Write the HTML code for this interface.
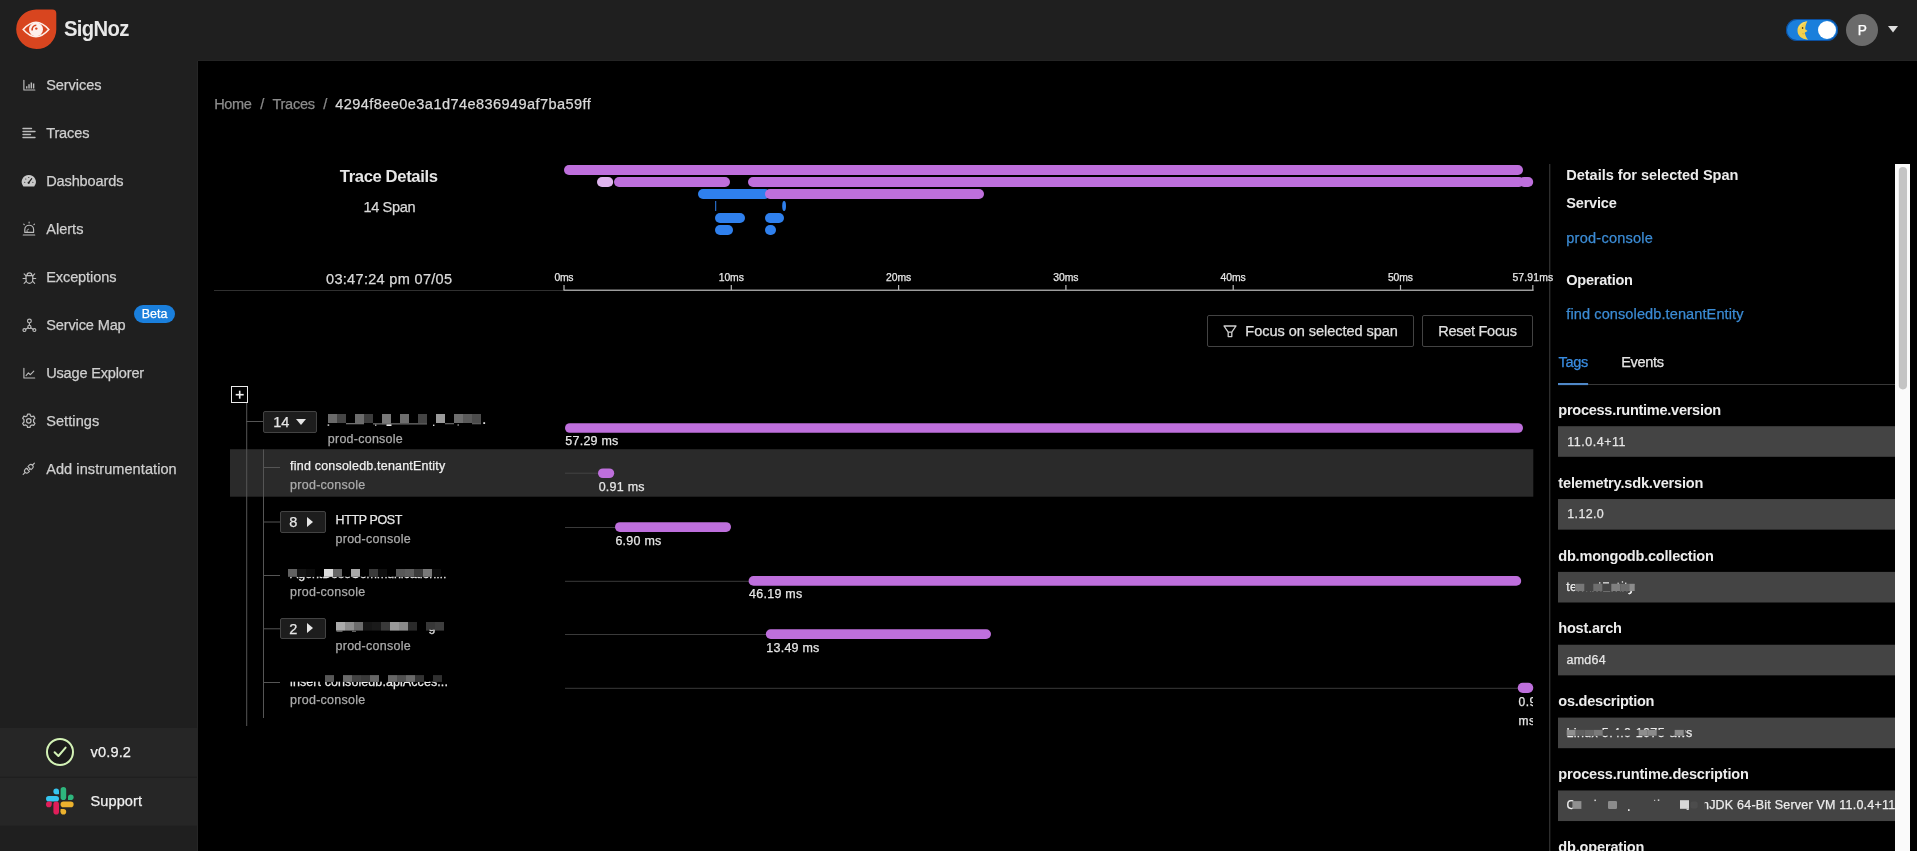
<!DOCTYPE html>
<html><head><meta charset="utf-8"><title>SigNoz | Trace Detail</title>
<style>
html,body{margin:0;padding:0;background:#000;width:1917px;height:851px;overflow:hidden;}
body{width:1917px;height:851px;position:relative;overflow:hidden;font-family:"Liberation Sans",sans-serif;}
#root{position:absolute;left:0;top:0;width:1917px;height:851px;will-change:transform;overflow:hidden;}
.t{position:absolute;white-space:pre;margin:0;padding:0;-webkit-text-stroke:0.25px;}
.b{position:absolute;}
svg{position:absolute;overflow:visible;}
</style></head><body><div id="root">
<div class="b" style="left:0px;top:0px;width:1917px;height:61px;background:#1f1f1f;"></div>
<div class="b" style="left:0px;top:61px;width:198px;height:790px;background:#1f1f1f;"></div>
<div class="b" style="left:197px;top:61px;width:1px;height:790px;background:#262626;"></div>
<div class="b" style="left:198px;top:60px;width:1719px;height:1px;background:#242424;"></div>
<svg style="left:16px;top:9px" width="41" height="41" viewBox="0 0 41 41"><path d="M20.2 0.4 H36.3 Q40.3 0.4 40.3 4.4 V20.6 A19.6 19.5 0 0 1 20.6 40.1 A20.3 19.9 0 0 1 0.2 20.2 A20 19.8 0 0 1 20.2 0.4 Z" fill="#d8451f"/><path d="M7.2 20.5 Q20 6 32.8 20.5 Q20 35 7.2 20.5 Z" fill="none" stroke="#fdeee8" stroke-width="1.6"/><circle cx="20" cy="20.4" r="7" fill="#fdf0ec"/><path d="M16.3 21.5 A4.2 4.2 0 0 1 20.3 16.2" fill="none" stroke="#d8451f" stroke-width="1.5"/><circle cx="20.3" cy="19.6" r="1.2" fill="#d8451f"/></svg>
<div class="t " style="left:64.00px;top:15.60px;font-size:20.28px;line-height:26px;color:#e8e8e8;font-weight:700;-webkit-text-stroke:0;letter-spacing:-0.665px;transform:scaleY(1.06);transform-origin:50% 50%;">SigNoz</div>
<div class="b" style="left:1786px;top:19px;width:52px;height:22px;background:#1a7fdc;border-radius:11px;box-shadow:inset 0 0 0 1px rgba(0,40,110,.55);"></div>
<div class="b" style="left:1818px;top:21px;width:18px;height:18px;background:#ffffff;border-radius:9px;"></div>
<svg style="left:1797px;top:20.5px" width="12" height="19" viewBox="0 0 12 19"><path d="M10.4 0.3 C3.6 1 0.5 5 0.5 9.6 C0.5 14.4 4 18.2 11 18.7 C8.8 16.2 7.9 13.6 7.9 11.6 L10.6 9.9 L8.2 8.3 C8.2 5.5 8.9 2.8 10.4 0.3 Z" fill="#f3d14f"/><path d="M10.4 0.3 C5.5 1.2 2.2 4.4 1.6 8.5 C3.4 4.4 6.6 2 10.4 0.3Z" fill="#f9e37a"/><ellipse cx="5.6" cy="6.9" rx="0.8" ry="1" fill="#5a4310"/><path d="M5.4 12.6 Q6.6 13.2 7.6 12.4" stroke="#c99a2e" stroke-width=".6" fill="none"/></svg>
<div class="b" style="left:1846px;top:14px;width:32px;height:32px;background:#6b6b6b;border-radius:16px;"></div>
<div class="t " style="left:1857.70px;top:20.60px;font-size:13.73px;line-height:19px;color:#ffffff;">P</div>
<svg style="left:1888px;top:25.7px" width="10" height="7" viewBox="0 0 10 7"><path d="M0 0 H10 L5 6.4 Z" fill="#dedede"/></svg>
<div class="t " style="left:46.20px;top:75.00px;font-size:14.56px;line-height:20px;color:#cfcfcf;letter-spacing:-0.076px;">Services</div>
<div class="t " style="left:46.20px;top:123.00px;font-size:14.56px;line-height:20px;color:#cfcfcf;letter-spacing:-0.132px;">Traces</div>
<div class="t " style="left:46.20px;top:171.00px;font-size:14.56px;line-height:20px;color:#cfcfcf;letter-spacing:-0.134px;">Dashboards</div>
<div class="t " style="left:46.20px;top:219.00px;font-size:14.56px;line-height:20px;color:#cfcfcf;letter-spacing:0.016px;">Alerts</div>
<div class="t " style="left:46.20px;top:267.00px;font-size:14.56px;line-height:20px;color:#cfcfcf;letter-spacing:-0.102px;">Exceptions</div>
<div class="t " style="left:46.20px;top:315.00px;font-size:14.56px;line-height:20px;color:#cfcfcf;letter-spacing:-0.132px;">Service Map</div>
<div class="t " style="left:46.20px;top:363.00px;font-size:14.56px;line-height:20px;color:#cfcfcf;letter-spacing:-0.173px;">Usage Explorer</div>
<div class="t " style="left:46.20px;top:411.00px;font-size:14.56px;line-height:20px;color:#cfcfcf;letter-spacing:0.070px;">Settings</div>
<div class="t " style="left:46.20px;top:459.00px;font-size:14.56px;line-height:20px;color:#cfcfcf;letter-spacing:0.061px;">Add instrumentation</div>
<svg style="left:22.8px;top:79px" width="12.4" height="12.4" viewBox="0 0 14 14" fill="none" stroke="#bcbcbc" stroke-width="1.1" stroke-linecap="round" stroke-linejoin="round"><path d="M1 1.5 V12.4 H13.4" stroke-width="1.3"/><path d="M4.2 10.8 V8.2 M6.8 10.8 V5.8 M9.4 10.8 V4 M12 10.8 V5.2" stroke-width="1.6" stroke-linecap="butt"/></svg>
<svg style="left:22px;top:126px" width="14" height="14" viewBox="0 0 14 14" fill="none" stroke="#bcbcbc" stroke-width="1.1" stroke-linecap="round" stroke-linejoin="round"><path d="M1 2.5 H9.5 M1 5.5 H13 M1 8.5 H8.5 M1 11.5 H13" stroke-width="1.4" stroke="#bdbdbd"/></svg>
<svg style="left:21px;top:174px" width="15.6" height="14" viewBox="0 0 15 14" preserveAspectRatio="none"><path d="M7.5 1 A6.8 6.8 0 0 0 1.9 11.7 Q2.2 12.6 3 12.6 H12 Q12.8 12.6 13.1 11.7 A6.8 6.8 0 0 0 7.5 1 Z" fill="#c8c8c8"/><path d="M7.4 8.6 L10.3 4.6" stroke="#1f1f1f" stroke-width="1.1" stroke-linecap="round"/><circle cx="7.4" cy="8.8" r="1.1" fill="#1f1f1f"/><circle cx="3.6" cy="8.3" r=".55" fill="#1f1f1f"/><circle cx="4.6" cy="5" r=".55" fill="#1f1f1f"/><circle cx="7.5" cy="3.5" r=".55" fill="#1f1f1f"/><circle cx="11.4" cy="8.3" r=".55" fill="#1f1f1f"/></svg>
<svg style="left:22px;top:222px" width="14" height="14" viewBox="0 0 14 14" fill="none" stroke="#bcbcbc" stroke-width="1.1" stroke-linecap="round" stroke-linejoin="round"><path d="M2.8 10.4 V7.6 A4.4 4.4 0 0 1 11.6 7.6 V10.4 Z" stroke-width="1.15"/><path d="M1.3 13 H12.7" stroke-width="1.2"/><path d="M7.1 0.1 V1 M1.7 2.1 L2.3 2.7 M12.5 2.1 L11.9 2.7" stroke-width="1.1"/><path d="M5.1 9.9 V8.4 A1.6 1.6 0 0 1 6.4 7.2" stroke-width="1"/></svg>
<svg style="left:21.6px;top:269.6px" width="14.8" height="14.8" viewBox="0 0 14 14" fill="none" stroke="#bcbcbc" stroke-width="1.1" stroke-linecap="round" stroke-linejoin="round"><path d="M3.8 5.4 H10.2 V9 A3.2 3.6 0 0 1 3.8 9 Z" stroke-width="1.15"/><path d="M4.7 5.2 A2.3 2.5 0 0 1 9.3 5.2" stroke-width="1.15"/><path d="M3.8 8 H1 M10.2 8 H13 M4.1 10.6 L2 12.6 M9.9 10.6 L12 12.6 M3.9 5.6 L2 3.6 M10.1 5.6 L12 3.6" stroke-width="1.05"/></svg>
<svg style="left:21.6px;top:317.8px" width="14.8" height="14.8" viewBox="0 0 14 14" fill="none" stroke="#bcbcbc" stroke-width="1.1" stroke-linecap="round" stroke-linejoin="round"><circle cx="7" cy="2.9" r="1.8"/><circle cx="2.3" cy="11.4" r="1.4"/><circle cx="11.7" cy="11.4" r="1.4"/><circle cx="7" cy="8.4" r="1.5"/><path d="M7 4.8 V6.9 M5.8 9.2 L3.5 10.6 M8.2 9.2 L10.5 10.6" stroke-width="1.05"/></svg>
<svg style="left:22.6px;top:366.7px" width="12.6" height="12.6" viewBox="0 0 14 14" fill="none" stroke="#bcbcbc" stroke-width="1.1" stroke-linecap="round" stroke-linejoin="round"><path d="M1 1.5 V12.2 H13" stroke-width="1.25"/><path d="M3.4 9.6 L6 6.6 L8.2 8.6 L12 4.6" stroke-width="1.2"/></svg>
<svg style="left:21.2px;top:413.4px" width="15.6" height="15.6" viewBox="0 0 14 14" fill="none" stroke="#bcbcbc" stroke-width="1.1" stroke-linecap="round" stroke-linejoin="round"><circle cx="7" cy="7" r="2"/><path d="M5.9 1 H8.1 L8.5 2.6 L9.8 3.3 L11.4 2.8 L12.5 4.7 L11.3 5.9 V8.1 L12.5 9.3 L11.4 11.2 L9.8 10.7 L8.5 11.4 L8.1 13 H5.9 L5.5 11.4 L4.2 10.7 L2.6 11.2 L1.5 9.3 L2.7 8.1 V5.9 L1.5 4.7 L2.6 2.8 L4.2 3.3 L5.5 2.6 Z"/></svg>
<svg style="left:22.3px;top:462.2px" width="13.6" height="13.6" viewBox="0 0 14 14" fill="none" stroke="#bcbcbc" stroke-width="1.1" stroke-linecap="round" stroke-linejoin="round"><g transform="translate(7 7) rotate(-45)"><path d="M-8.2 0 H-5.2 M5.2 0 H8.2" stroke-width="1.2"/><path d="M-1.3 -2.3 H-3 A2.3 2.3 0 0 0 -3 2.3 H-1.3 Z"/><path d="M1 -2.3 H3 A2.3 2.3 0 0 1 3 2.3 H1 Z"/><path d="M-1.3 -1 H0.4 M-1.3 1 H0.4" stroke-width="0.9"/></g></svg>
<div class="b" style="left:134px;top:305px;width:41px;height:18px;background:#1a7fdc;border-radius:9px;"></div>
<div class="t " style="left:141.70px;top:305.00px;font-size:12.48px;line-height:18px;color:#ffffff;letter-spacing:0.042px;">Beta</div>
<svg style="left:-1px;top:726px;" width="200" height="52"><rect x="1.00" y="1.80" width="198.00" height="48.80" fill="#262626"/></svg>
<svg style="left:-1px;top:777px;" width="200" height="50"><rect x="1.00" y="1.00" width="198.00" height="47.60" fill="#262626"/></svg>
<svg style="left:45px;top:737px" width="30" height="30" viewBox="0 0 30 30" fill="none" stroke="#d3f2b6" stroke-linecap="round" stroke-linejoin="round"><circle cx="15" cy="15" r="13" stroke-width="2" fill="#1c1c1c"/><path d="M9.6 15.2 L13.4 19 L20.6 10.6" stroke-width="2"/></svg>
<div class="t " style="left:90.50px;top:742.30px;font-size:14.56px;line-height:20px;color:#f0f0f0;letter-spacing:0.167px;">v0.9.2</div>
<svg style="left:46px;top:787px" width="28" height="28" viewBox="0 0 28 28"><g fill="#36c5f0"><rect x="0" y="9" width="13" height="5.6" rx="2.8"/><rect x="7.4" y="1.6" width="5.6" height="5.6" rx="2.8"/><rect x="10.2" y="4.4" width="2.8" height="2.8"/></g><g fill="#2eb67d"><rect x="14.6" y="0" width="5.6" height="13" rx="2.8"/><rect x="22" y="7.4" width="5.6" height="5.6" rx="2.8"/><rect x="22" y="10.2" width="2.8" height="2.8"/></g><g fill="#ecb22e"><rect x="14.6" y="14.6" width="13" height="5.6" rx="2.8"/><rect x="14.6" y="22" width="5.6" height="5.6" rx="2.8"/><rect x="14.6" y="22" width="2.8" height="2.8"/></g><g fill="#e01e5a"><rect x="7.4" y="14.6" width="5.6" height="13" rx="2.8"/><rect x="0" y="14.6" width="5.6" height="5.6" rx="2.8"/><rect x="2.8" y="14.6" width="2.8" height="2.8"/></g></svg>
<div class="t " style="left:90.50px;top:790.80px;font-size:14.56px;line-height:20px;color:#f0f0f0;letter-spacing:0.084px;">Support</div>
<div class="t " style="left:214.20px;top:94.00px;font-size:14.56px;line-height:20px;color:#8c8c8c;letter-spacing:-0.346px;">Home</div>
<div class="t " style="left:260.30px;top:94.00px;font-size:14.56px;line-height:20px;color:#8c8c8c;">/</div>
<div class="t " style="left:272.50px;top:94.00px;font-size:14.56px;line-height:20px;color:#8c8c8c;letter-spacing:-0.292px;">Traces</div>
<div class="t " style="left:323.30px;top:94.00px;font-size:14.56px;line-height:20px;color:#8c8c8c;">/</div>
<div class="t " style="left:335.30px;top:94.00px;font-size:14.56px;line-height:20px;color:#d9d9d9;letter-spacing:0.421px;">4294f8ee0e3a1d74e836949af7ba59ff</div>
<div class="t " style="left:339.80px;top:166.20px;font-size:16.64px;line-height:22px;color:#e6e6e6;font-weight:700;-webkit-text-stroke:0;letter-spacing:-0.373px;">Trace Details</div>
<div class="t " style="left:363.40px;top:197.30px;font-size:14.56px;line-height:20px;color:#d9d9d9;letter-spacing:-0.341px;">14 Span</div>
<div class="t " style="left:326.00px;top:269.20px;font-size:14.56px;line-height:20px;color:#d9d9d9;letter-spacing:0.298px;">03:47:24 pm 07/05</div>
<div class="b" style="left:214px;top:290px;width:1320px;height:1px;background:#303030;"></div>
<div class="b" style="left:564px;top:165px;width:959px;height:10px;background:#be6fdc;border-radius:5px;"></div>
<svg style="left:596px;top:176px;" width="19" height="12"><rect x="1.00" y="1.00" width="16.20" height="10.00" rx="5" fill="#dfb4ee"/></svg>
<div class="b" style="left:614px;top:177px;width:116px;height:10px;background:#be6fdc;border-radius:5px;"></div>
<div class="b" style="left:748px;top:177px;width:776px;height:10px;background:#be6fdc;border-radius:5px;"></div>
<svg style="left:1518px;top:176px;" width="17" height="12"><rect x="1.00" y="1.00" width="14.20" height="10.00" rx="5" fill="#be6fdc"/></svg>
<div class="b" style="left:698px;top:189px;width:72px;height:10px;background:#2f80ed;border-radius:5px;"></div>
<div class="b" style="left:765px;top:189px;width:219px;height:10px;background:#be6fdc;border-radius:5px;"></div>
<svg style="left:714px;top:200px;" width="4" height="12"><rect x="1.20" y="1.00" width="1.00" height="10.00" fill="#2f80ed"/></svg>
<svg style="left:781px;top:200px;" width="6" height="12"><rect x="1.20" y="1.00" width="3.80" height="10.00" rx="5" fill="#2f80ed"/></svg>
<div class="b" style="left:715px;top:213px;width:30px;height:10px;background:#2f80ed;border-radius:5px;"></div>
<div class="b" style="left:765px;top:213px;width:19px;height:10px;background:#2f80ed;border-radius:5px;"></div>
<div class="b" style="left:715px;top:225px;width:18px;height:10px;background:#2f80ed;border-radius:5px;"></div>
<div class="b" style="left:765px;top:225px;width:11px;height:10px;background:#2f80ed;border-radius:5px;"></div>
<svg style="left:562px;top:288px;" width="973" height="4"><rect x="1.50" y="1.60" width="970.00" height="1.20" fill="#b8b8b8"/></svg>
<svg style="left:562px;top:284px;" width="4" height="7"><rect x="1.40" y="1.00" width="1.20" height="5.00" fill="#b8b8b8"/></svg>
<div class="t " style="left:554.50px;top:269.70px;font-size:10.4px;line-height:16px;color:#e6e6e6;letter-spacing:-0.324px;z-index:3;">0ms</div>
<svg style="left:729px;top:284px;" width="4" height="7"><rect x="1.70" y="1.00" width="1.20" height="5.00" fill="#b8b8b8"/></svg>
<div class="t " style="left:718.70px;top:269.70px;font-size:10.4px;line-height:16px;color:#e6e6e6;letter-spacing:-0.077px;z-index:3;">10ms</div>
<svg style="left:897px;top:284px;" width="4" height="7"><rect x="1.00" y="1.00" width="1.20" height="5.00" fill="#b8b8b8"/></svg>
<div class="t " style="left:886.00px;top:269.70px;font-size:10.4px;line-height:16px;color:#e6e6e6;letter-spacing:-0.077px;z-index:3;">20ms</div>
<svg style="left:1064px;top:284px;" width="4" height="7"><rect x="1.30" y="1.00" width="1.20" height="5.00" fill="#b8b8b8"/></svg>
<div class="t " style="left:1053.30px;top:269.70px;font-size:10.4px;line-height:16px;color:#e6e6e6;letter-spacing:-0.077px;z-index:3;">30ms</div>
<svg style="left:1231px;top:284px;" width="4" height="7"><rect x="1.60" y="1.00" width="1.20" height="5.00" fill="#b8b8b8"/></svg>
<div class="t " style="left:1220.60px;top:269.70px;font-size:10.4px;line-height:16px;color:#e6e6e6;letter-spacing:-0.077px;z-index:3;">40ms</div>
<svg style="left:1398px;top:284px;" width="5" height="7"><rect x="1.90" y="1.00" width="1.20" height="5.00" fill="#b8b8b8"/></svg>
<div class="t " style="left:1387.90px;top:269.70px;font-size:10.4px;line-height:16px;color:#e6e6e6;letter-spacing:-0.077px;z-index:3;">50ms</div>
<svg style="left:1531px;top:284px;" width="4" height="7"><rect x="1.23" y="1.00" width="1.20" height="5.00" fill="#b8b8b8"/></svg>
<div class="t " style="left:1512.43px;top:269.70px;font-size:10.4px;line-height:16px;color:#e6e6e6;letter-spacing:0.152px;z-index:3;">57.91ms</div>
<div class="b" style="left:1207px;top:315px;width:207px;height:32px;border:1px solid #434343;border-radius:2px;box-sizing:border-box;"></div>
<div class="b" style="left:1422px;top:315px;width:111px;height:32px;border:1px solid #434343;border-radius:2px;box-sizing:border-box;"></div>
<svg style="left:1223px;top:325px" width="14" height="13" viewBox="0 0 14 13" fill="none" stroke="#d0d0d0" stroke-width="1.3" stroke-linejoin="round"><path d="M1 1 H13 L8.8 7.2 H5.2 Z"/><path d="M5.2 7.2 V11.6 H8.8 V7.2"/></svg>
<div class="t " style="left:1245.30px;top:321.20px;font-size:14.56px;line-height:20px;color:#e0e0e0;letter-spacing:-0.052px;">Focus on selected span</div>
<div class="t " style="left:1438.30px;top:321.20px;font-size:14.56px;line-height:20px;color:#e0e0e0;letter-spacing:-0.303px;">Reset Focus</div>
<svg style="left:229px;top:448px;" width="1306" height="50"><rect x="1.00" y="1.20" width="1303.30" height="47.50" fill="#2a2a2a"/></svg>
<div class="b" style="left:231.3px;top:386.3px;width:16.7px;height:16.7px;border:1.9px solid #ececec;box-sizing:border-box;"></div>
<svg style="left:234px;top:392px;" width="11" height="5"><rect x="1.70" y="1.90" width="8.00" height="1.60" fill="#ececec"/></svg>
<svg style="left:237px;top:389px;" width="5" height="11"><rect x="1.90" y="1.70" width="1.60" height="8.00" fill="#ececec"/></svg>
<svg style="left:245px;top:402px;" width="4" height="325"><rect x="1.20" y="1.00" width="1.00" height="323.00" fill="#555555"/></svg>
<svg style="left:262px;top:448px;" width="3" height="271"><rect x="1.00" y="1.50" width="1.00" height="268.50" fill="#555555"/></svg>
<svg style="left:245px;top:420px;" width="20" height="3"><rect x="1.20" y="1.00" width="17.00" height="1.00" fill="#555555"/></svg>
<div class="b" style="left:263px;top:467px;width:17px;height:1px;background:#555555;"></div>
<svg style="left:262px;top:520px;" width="19" height="4"><rect x="1.00" y="1.50" width="17.00" height="1.00" fill="#555555"/></svg>
<div class="b" style="left:263px;top:575px;width:17px;height:1px;background:#555555;"></div>
<svg style="left:262px;top:627px;" width="19" height="4"><rect x="1.00" y="1.30" width="17.00" height="1.00" fill="#555555"/></svg>
<div class="b" style="left:263px;top:682px;width:17px;height:1px;background:#555555;"></div>
<div class="b" style="left:263.3px;top:411.3px;width:53.4px;height:21.4px;background:#1d1d1d;border:1px solid #434343;border-radius:2px;box-sizing:border-box;"></div>
<div class="t " style="left:273.20px;top:412.20px;font-size:14.56px;line-height:20px;color:#e6e6e6;">14</div>
<svg style="left:296.3px;top:419.2px" width="10" height="6" viewBox="0 0 10 6"><path d="M0 0 H10 L5 6 Z" fill="#e6e6e6"/></svg>
<div class="b" style="left:280px;top:511.4px;width:45.8px;height:21.4px;background:#1d1d1d;border:1px solid #434343;border-radius:2px;box-sizing:border-box;"></div>
<div class="t " style="left:289.20px;top:512.30px;font-size:14.56px;line-height:20px;color:#e6e6e6;">8</div>
<svg style="left:307.2px;top:516.8px" width="6" height="10" viewBox="0 0 6 10"><path d="M0 0 V10 L6 5 Z" fill="#e6e6e6"/></svg>
<div class="b" style="left:280px;top:618px;width:45.8px;height:21.4px;background:#1d1d1d;border:1px solid #434343;border-radius:2px;box-sizing:border-box;"></div>
<div class="t " style="left:289.20px;top:618.90px;font-size:14.56px;line-height:20px;color:#e6e6e6;">2</div>
<svg style="left:307.2px;top:623.4px" width="6" height="10" viewBox="0 0 6 10"><path d="M0 0 V10 L6 5 Z" fill="#e6e6e6"/></svg>
<div class="b" style="left:328px;top:414px;width:9px;height:9px;background:#6a6a6a;"></div>
<div class="b" style="left:337px;top:414px;width:9px;height:9px;background:#454545;"></div>
<div class="b" style="left:355px;top:414px;width:9px;height:9px;background:#6c6c6c;"></div>
<div class="b" style="left:364px;top:414px;width:9px;height:9px;background:#3c3c3c;"></div>
<div class="b" style="left:382px;top:414px;width:9px;height:9px;background:#787878;"></div>
<div class="b" style="left:400px;top:414px;width:9px;height:9px;background:#6e6e6e;"></div>
<div class="b" style="left:418px;top:414px;width:9px;height:9px;background:#444;"></div>
<div class="b" style="left:436px;top:414px;width:9px;height:9px;background:#9a9a9a;"></div>
<div class="b" style="left:454px;top:414px;width:9px;height:9px;background:#6e6e6e;"></div>
<div class="b" style="left:463px;top:414px;width:9px;height:9px;background:#5a5a5a;"></div>
<div class="b" style="left:472px;top:414px;width:9px;height:9px;background:#4c4c4c;"></div>
<svg style="left:381px;top:422px;" width="11" height="4"><rect x="1.00" y="1.00" width="9.00" height="1.20" fill="#787878"/></svg>
<svg style="left:345px;top:422px;" width="20" height="4"><rect x="1.00" y="1.00" width="18.00" height="1.30" fill="#707070"/></svg>
<svg style="left:372px;top:422px;" width="56" height="4"><rect x="1.00" y="1.20" width="54.00" height="1.30" fill="#6c6c6c"/></svg>
<svg style="left:444px;top:422px;" width="11" height="4"><rect x="1.00" y="1.00" width="9.00" height="1.30" fill="#606060"/></svg>
<svg style="left:471px;top:422px;" width="11" height="4"><rect x="1.00" y="1.00" width="9.00" height="1.30" fill="#5a5a5a"/></svg>
<svg style="left:326px;top:423px;" width="5" height="4"><rect x="1.60" y="1.40" width="1.60" height="1.40" fill="#ddd"/></svg>
<svg style="left:374px;top:423px;" width="4" height="4"><rect x="1.00" y="1.60" width="1.40" height="1.20" fill="#ccc"/></svg>
<svg style="left:385px;top:423px;" width="8" height="4"><rect x="1.50" y="1.40" width="5.00" height="1.60" fill="#e8e8e8"/></svg>
<svg style="left:432px;top:423px;" width="4" height="4"><rect x="1.00" y="1.60" width="1.40" height="1.40" fill="#ddd"/></svg>
<svg style="left:456px;top:423px;" width="4" height="4"><rect x="1.50" y="1.40" width="1.40" height="1.20" fill="#bbb"/></svg>
<svg style="left:482px;top:421px;" width="5" height="4"><rect x="1.30" y="1.20" width="1.80" height="1.80" fill="#ddd"/></svg>
<div class="t " style="left:327.80px;top:430.00px;font-size:12.48px;line-height:18px;color:#ababab;letter-spacing:0.259px;">prod-console</div>
<div class="t " style="left:290.10px;top:456.80px;font-size:12.48px;line-height:18px;color:#f0f0f0;letter-spacing:0.209px;">find consoledb.tenantEntity</div>
<div class="t " style="left:290.10px;top:476.20px;font-size:12.48px;line-height:18px;color:#ababab;letter-spacing:0.277px;">prod-console</div>
<div class="t " style="left:335.50px;top:510.80px;font-size:12.48px;line-height:18px;color:#e6e6e6;letter-spacing:-0.363px;">HTTP POST</div>
<div class="t " style="left:335.50px;top:530.00px;font-size:12.48px;line-height:18px;color:#ababab;letter-spacing:0.277px;">prod-console</div>
<div class="t " style="left:290.10px;top:564.90px;font-size:12.48px;line-height:18px;color:#e8e8e8;letter-spacing:-0.102px;clip-path:inset(11.9px 0 0 0);">AgentDoseCommunication...</div>
<svg style="left:287px;top:568px;" width="11" height="10"><rect x="1.00" y="1.00" width="9.00" height="7.80" fill="#626262"/></svg>
<svg style="left:296px;top:568px;" width="11" height="10"><rect x="1.00" y="1.00" width="9.00" height="7.80" fill="#141414"/></svg>
<svg style="left:305px;top:568px;" width="11" height="10"><rect x="1.00" y="1.00" width="9.00" height="7.80" fill="#0c0c0c"/></svg>
<svg style="left:323px;top:568px;" width="11" height="10"><rect x="1.00" y="1.00" width="9.00" height="7.80" fill="#dcdcdc"/></svg>
<svg style="left:332px;top:568px;" width="11" height="10"><rect x="1.00" y="1.00" width="9.00" height="7.80" fill="#666"/></svg>
<svg style="left:350px;top:568px;" width="11" height="10"><rect x="1.00" y="1.00" width="9.00" height="7.80" fill="#a8a8a8"/></svg>
<svg style="left:368px;top:568px;" width="11" height="10"><rect x="1.00" y="1.00" width="9.00" height="7.80" fill="#3a3a3a"/></svg>
<svg style="left:377px;top:568px;" width="11" height="10"><rect x="1.00" y="1.00" width="9.00" height="7.80" fill="#0e0e0e"/></svg>
<svg style="left:395px;top:568px;" width="11" height="10"><rect x="1.00" y="1.00" width="9.00" height="7.80" fill="#585858"/></svg>
<svg style="left:404px;top:568px;" width="11" height="10"><rect x="1.00" y="1.00" width="9.00" height="7.80" fill="#5e5e5e"/></svg>
<svg style="left:413px;top:568px;" width="11" height="10"><rect x="1.00" y="1.00" width="9.00" height="7.80" fill="#3c3c3c"/></svg>
<svg style="left:422px;top:568px;" width="11" height="10"><rect x="1.00" y="1.00" width="9.00" height="7.80" fill="#787878"/></svg>
<svg style="left:431px;top:568px;" width="11" height="10"><rect x="1.00" y="1.00" width="9.00" height="7.80" fill="#0c0c0c"/></svg>
<div class="t " style="left:290.10px;top:582.80px;font-size:12.48px;line-height:18px;color:#ababab;letter-spacing:0.277px;">prod-console</div>
<svg style="left:335px;top:621px;" width="11" height="11"><rect x="1.00" y="1.00" width="9.00" height="8.60" fill="#ababab"/></svg>
<svg style="left:344px;top:621px;" width="11" height="11"><rect x="1.00" y="1.00" width="9.00" height="8.60" fill="#8e8e8e"/></svg>
<svg style="left:353px;top:621px;" width="11" height="11"><rect x="1.00" y="1.00" width="9.00" height="8.60" fill="#6c6c6c"/></svg>
<svg style="left:362px;top:621px;" width="11" height="11"><rect x="1.00" y="1.00" width="9.00" height="8.60" fill="#161616"/></svg>
<svg style="left:371px;top:621px;" width="11" height="11"><rect x="1.00" y="1.00" width="9.00" height="8.60" fill="#1a1a1a"/></svg>
<svg style="left:380px;top:621px;" width="11" height="11"><rect x="1.00" y="1.00" width="9.00" height="8.60" fill="#3a3a3a"/></svg>
<svg style="left:389px;top:621px;" width="11" height="11"><rect x="1.00" y="1.00" width="9.00" height="8.60" fill="#9a9a9a"/></svg>
<svg style="left:398px;top:621px;" width="11" height="11"><rect x="1.00" y="1.00" width="9.00" height="8.60" fill="#8a8a8a"/></svg>
<svg style="left:407px;top:621px;" width="11" height="11"><rect x="1.00" y="1.00" width="9.00" height="8.60" fill="#2a2a2a"/></svg>
<svg style="left:425px;top:621px;" width="11" height="11"><rect x="1.00" y="1.00" width="9.00" height="8.60" fill="#383838"/></svg>
<svg style="left:434px;top:621px;" width="11" height="11"><rect x="1.00" y="1.00" width="9.00" height="8.60" fill="#3e3e3e"/></svg>
<div class="t " style="left:428.60px;top:617.60px;font-size:12.48px;line-height:18px;color:#ddd;clip-path:inset(12.2px 0 0 0);">g</div>
<svg style="left:335px;top:629px;" width="9" height="4"><rect x="1.50" y="1.60" width="6.00" height="1.00" fill="#999"/></svg>
<svg style="left:351px;top:629px;" width="6" height="4"><rect x="1.00" y="1.80" width="4.00" height="1.00" fill="#777"/></svg>
<div class="t " style="left:335.50px;top:637.00px;font-size:12.48px;line-height:18px;color:#ababab;letter-spacing:0.277px;">prod-console</div>
<div class="t " style="left:290.10px;top:672.50px;font-size:12.48px;line-height:18px;color:#ececec;letter-spacing:0.093px;clip-path:inset(9.3px 0 0 0);">insert consoledb.apiAcces...</div>
<svg style="left:324px;top:674px;" width="11" height="9"><rect x="1.00" y="1.10" width="9.00" height="6.80" fill="#585858"/></svg>
<svg style="left:342px;top:674px;" width="11" height="9"><rect x="1.00" y="1.10" width="9.00" height="6.80" fill="#6a6a6a"/></svg>
<svg style="left:351px;top:674px;" width="11" height="9"><rect x="1.00" y="1.10" width="9.00" height="6.80" fill="#424242"/></svg>
<svg style="left:360px;top:674px;" width="11" height="9"><rect x="1.00" y="1.10" width="9.00" height="6.80" fill="#3a3a3a"/></svg>
<svg style="left:369px;top:674px;" width="11" height="9"><rect x="1.00" y="1.10" width="9.00" height="6.80" fill="#666"/></svg>
<svg style="left:387px;top:674px;" width="11" height="9"><rect x="1.00" y="1.10" width="9.00" height="6.80" fill="#666"/></svg>
<svg style="left:396px;top:674px;" width="11" height="9"><rect x="1.00" y="1.10" width="9.00" height="6.80" fill="#505050"/></svg>
<svg style="left:405px;top:674px;" width="11" height="9"><rect x="1.00" y="1.10" width="9.00" height="6.80" fill="#6a6a6a"/></svg>
<svg style="left:414px;top:674px;" width="11" height="9"><rect x="1.00" y="1.10" width="9.00" height="6.80" fill="#333"/></svg>
<svg style="left:432px;top:674px;" width="11" height="9"><rect x="1.00" y="1.10" width="9.00" height="6.80" fill="#303030"/></svg>
<div class="t " style="left:290.10px;top:690.70px;font-size:12.48px;line-height:18px;color:#ababab;letter-spacing:0.277px;">prod-console</div>
<svg style="left:564px;top:422px;" width="960" height="12"><rect x="1.00" y="1.20" width="958.00" height="9.60" rx="4.8" fill="#be6fdc"/></svg>
<div class="t " style="left:565.30px;top:431.80px;font-size:12.48px;line-height:18px;color:#e6e6e6;letter-spacing:0.252px;">57.29 ms</div>
<svg style="left:564px;top:471px;" width="36" height="4"><rect x="1.00" y="1.70" width="34.00" height="1.00" fill="#444"/></svg>
<svg style="left:597px;top:467px;" width="19" height="13"><rect x="1.00" y="1.40" width="16.20" height="9.70" rx="4.85" fill="#be6fdc"/></svg>
<div class="t " style="left:598.70px;top:477.80px;font-size:12.48px;line-height:18px;color:#e6e6e6;letter-spacing:0.251px;">0.91 ms</div>
<div class="b" style="left:565px;top:527px;width:51px;height:1px;background:#3a3a3a;"></div>
<svg style="left:614px;top:521px;" width="118" height="12"><rect x="1.00" y="1.20" width="116.00" height="9.70" rx="4.85" fill="#be6fdc"/></svg>
<div class="t " style="left:615.40px;top:531.80px;font-size:12.48px;line-height:18px;color:#e6e6e6;letter-spacing:0.251px;">6.90 ms</div>
<svg style="left:564px;top:579px;" width="187" height="4"><rect x="1.00" y="1.80" width="185.00" height="1.00" fill="#3a3a3a"/></svg>
<svg style="left:747px;top:575px;" width="776" height="12"><rect x="1.60" y="1.00" width="772.60" height="9.80" rx="4.9" fill="#be6fdc"/></svg>
<div class="t " style="left:749.00px;top:584.90px;font-size:12.48px;line-height:18px;color:#e6e6e6;letter-spacing:0.281px;">46.19 ms</div>
<div class="b" style="left:565px;top:634px;width:202px;height:1px;background:#3a3a3a;"></div>
<svg style="left:764px;top:628px;" width="228" height="12"><rect x="1.80" y="1.20" width="225.20" height="9.80" rx="4.9" fill="#be6fdc"/></svg>
<div class="t " style="left:766.30px;top:638.80px;font-size:12.48px;line-height:18px;color:#e6e6e6;letter-spacing:0.252px;">13.49 ms</div>
<svg style="left:564px;top:686px;" width="957" height="4"><rect x="1.00" y="1.80" width="955.00" height="1.00" fill="#3a3a3a"/></svg>
<svg style="left:1516px;top:681px;" width="19" height="13"><rect x="1.70" y="1.70" width="15.60" height="10.20" rx="5.1" fill="#be6fdc"/></svg>
<div class="b" style="left:1518px;top:692px;width:15.3px;height:40px;overflow:hidden;"><div class="t" style="left:0.6px;top:0.6px;font-size:12px;line-height:18px;color:#e6e6e6;letter-spacing:.5px">0.91</div><div class="t" style="left:0.6px;top:19.6px;font-size:12px;line-height:18px;color:#e6e6e6;letter-spacing:.4px">ms</div></div>
<svg style="left:1548px;top:163px;" width="4" height="689"><rect x="1.20" y="1.00" width="1.10" height="687.00" fill="#383838"/></svg>
<div class="t " style="left:1566.30px;top:165.30px;font-size:14.56px;line-height:20px;color:#ececec;font-weight:700;-webkit-text-stroke:0;letter-spacing:-0.040px;">Details for selected Span</div>
<div class="t " style="left:1566.30px;top:192.80px;font-size:14.56px;line-height:20px;color:#ececec;font-weight:700;-webkit-text-stroke:0;letter-spacing:-0.219px;">Service</div>
<div class="t " style="left:1566.30px;top:228.20px;font-size:14.56px;line-height:20px;color:#3b8bd4;letter-spacing:0.229px;">prod-console</div>
<div class="t " style="left:1566.30px;top:270.20px;font-size:14.56px;line-height:20px;color:#ececec;font-weight:700;-webkit-text-stroke:0;letter-spacing:-0.258px;">Operation</div>
<div class="t " style="left:1566.30px;top:304.00px;font-size:14.56px;line-height:20px;color:#3b8bd4;letter-spacing:0.095px;">find consoledb.tenantEntity</div>
<div class="t " style="left:1558.40px;top:352.00px;font-size:14.56px;line-height:20px;color:#3a8de2;letter-spacing:-0.252px;">Tags</div>
<div class="t " style="left:1621.20px;top:352.00px;font-size:14.56px;line-height:20px;color:#e6e6e6;letter-spacing:-0.342px;">Events</div>
<div class="b" style="left:1558px;top:384px;width:337px;height:1px;background:#383838;"></div>
<svg style="left:1557px;top:382px;" width="33" height="5"><rect x="1.00" y="1.00" width="30.10" height="2.10" fill="#4f88c8"/></svg>
<div class="t " style="left:1558.30px;top:400.20px;font-size:14.56px;line-height:20px;color:#ececec;font-weight:700;-webkit-text-stroke:0;letter-spacing:-0.278px;">process.runtime.version</div>
<svg style="left:1557px;top:425px;" width="339" height="33"><rect x="1.00" y="1.20" width="337.00" height="30.60" fill="#444444"/></svg>
<div class="t " style="left:1567.30px;top:432.60px;font-size:12.48px;line-height:18px;color:#e6e6e6;letter-spacing:0.523px;">11.0.4+11</div>
<div class="t " style="left:1558.30px;top:473.20px;font-size:14.56px;line-height:20px;color:#ececec;font-weight:700;-webkit-text-stroke:0;letter-spacing:-0.167px;">telemetry.sdk.version</div>
<svg style="left:1557px;top:498px;" width="339" height="33"><rect x="1.00" y="1.05" width="337.00" height="30.60" fill="#444444"/></svg>
<div class="t " style="left:1567.30px;top:505.45px;font-size:12.48px;line-height:18px;color:#e6e6e6;letter-spacing:0.360px;">1.12.0</div>
<div class="t " style="left:1558.30px;top:546.00px;font-size:14.56px;line-height:20px;color:#ececec;font-weight:700;-webkit-text-stroke:0;letter-spacing:-0.222px;">db.mongodb.collection</div>
<svg style="left:1557px;top:570px;" width="339" height="34"><rect x="1.00" y="1.90" width="337.00" height="30.60" fill="#444444"/></svg>
<div class="t " style="left:1558.30px;top:618.30px;font-size:14.56px;line-height:20px;color:#ececec;font-weight:700;-webkit-text-stroke:0;letter-spacing:-0.229px;">host.arch</div>
<svg style="left:1557px;top:643px;" width="339" height="34"><rect x="1.00" y="1.75" width="337.00" height="30.60" fill="#444444"/></svg>
<div class="t " style="left:1566.40px;top:651.15px;font-size:12.48px;line-height:18px;color:#e6e6e6;letter-spacing:0.310px;">amd64</div>
<div class="t " style="left:1558.30px;top:691.00px;font-size:14.56px;line-height:20px;color:#ececec;font-weight:700;-webkit-text-stroke:0;letter-spacing:-0.247px;">os.description</div>
<svg style="left:1557px;top:716px;" width="339" height="34"><rect x="1.00" y="1.60" width="337.00" height="30.60" fill="#444444"/></svg>
<div class="t " style="left:1558.30px;top:764.20px;font-size:14.56px;line-height:20px;color:#ececec;font-weight:700;-webkit-text-stroke:0;letter-spacing:-0.196px;">process.runtime.description</div>
<svg style="left:1557px;top:789px;" width="339" height="34"><rect x="1.00" y="1.45" width="337.00" height="30.60" fill="#444444"/></svg>
<div class="t " style="left:1558.30px;top:837.00px;font-size:14.56px;line-height:20px;color:#ececec;font-weight:700;-webkit-text-stroke:0;letter-spacing:-0.179px;">db.operation</div>
<div class="t " style="left:1566.30px;top:577.90px;font-size:12.48px;line-height:18px;color:#ececec;letter-spacing:0.208px;">tenantEntity</div>
<svg style="left:1574px;top:580px;" width="62" height="13"><rect x="1.30" y="1.00" width="59.50" height="10.20" fill="#444444"/></svg>
<svg style="left:1574px;top:582px;" width="12" height="10"><rect x="1.30" y="1.80" width="9.00" height="7.20" fill="#787878"/></svg>
<svg style="left:1592px;top:582px;" width="12" height="10"><rect x="1.30" y="1.80" width="9.00" height="7.20" fill="#6e6e6e"/></svg>
<svg style="left:1610px;top:582px;" width="12" height="10"><rect x="1.30" y="1.80" width="9.00" height="7.20" fill="#808080"/></svg>
<svg style="left:1619px;top:582px;" width="12" height="10"><rect x="1.30" y="1.80" width="9.00" height="7.20" fill="#6c6c6c"/></svg>
<svg style="left:1628px;top:582px;" width="8" height="10"><rect x="1.30" y="1.80" width="5.40" height="7.20" fill="#8c8c8c"/></svg>
<div class="t " style="left:1628.20px;top:577.90px;font-size:12.48px;line-height:18px;color:#ececec;clip-path:inset(13.4px 0 0 0);">y</div>
<svg style="left:1598px;top:581px;" width="4" height="4"><rect x="1.00" y="1.20" width="1.40" height="1.40" fill="#ddd"/></svg>
<svg style="left:1602px;top:581px;" width="8" height="4"><rect x="1.00" y="1.20" width="6.00" height="1.30" fill="#e0e0e0"/></svg>
<svg style="left:1616px;top:581px;" width="4" height="4"><rect x="1.50" y="1.60" width="1.30" height="1.30" fill="#ccc"/></svg>
<svg style="left:1620px;top:580px;" width="5" height="4"><rect x="1.80" y="1.20" width="1.30" height="1.50" fill="#ddd"/></svg>
<svg style="left:1624px;top:581px;" width="4" height="4"><rect x="1.00" y="1.60" width="1.40" height="1.30" fill="#ddd"/></svg>
<div class="t " style="left:1566.50px;top:724.20px;font-size:12.48px;line-height:18px;color:#ececec;letter-spacing:0.346px;">Linux 5.4.0-1075-aws</div>
<svg style="left:1565px;top:728px;" width="122" height="9"><rect x="1.00" y="1.90" width="119.50" height="5.80" fill="#444444"/></svg>
<svg style="left:1565px;top:728px;" width="12" height="9"><rect x="1.70" y="1.90" width="9.00" height="5.80" fill="#909090"/></svg>
<svg style="left:1574px;top:728px;" width="12" height="9"><rect x="1.70" y="1.90" width="9.00" height="5.80" fill="#606060"/></svg>
<svg style="left:1583px;top:728px;" width="12" height="9"><rect x="1.70" y="1.90" width="9.00" height="5.80" fill="#686868"/></svg>
<svg style="left:1592px;top:728px;" width="12" height="9"><rect x="1.70" y="1.90" width="9.00" height="5.80" fill="#7a7a7a"/></svg>
<svg style="left:1637px;top:728px;" width="12" height="9"><rect x="1.70" y="1.90" width="9.00" height="5.80" fill="#8e8e8e"/></svg>
<svg style="left:1646px;top:728px;" width="12" height="9"><rect x="1.70" y="1.90" width="9.00" height="5.80" fill="#8a8a8a"/></svg>
<svg style="left:1673px;top:728px;" width="12" height="9"><rect x="1.70" y="1.90" width="9.00" height="5.80" fill="#8c8c8c"/></svg>
<div class="t " style="left:1566.60px;top:796.40px;font-size:12.48px;line-height:18px;color:#ececec;clip-path:inset(0 3px 0 0);">O</div>
<svg style="left:1571px;top:800px;" width="12" height="10"><rect x="1.40" y="1.10" width="9.00" height="7.80" fill="#909090"/></svg>
<svg style="left:1593px;top:798px;" width="4" height="5"><rect x="1.40" y="1.60" width="1.50" height="1.50" fill="#ddd"/></svg>
<svg style="left:1607px;top:799px;" width="11" height="11"><rect x="1.00" y="1.90" width="9.00" height="8.00" rx="1.2" fill="#8c8c8c"/></svg>
<svg style="left:1627px;top:808px;" width="4" height="4"><rect x="1.00" y="1.20" width="1.60" height="1.80" fill="#e6e6e6"/></svg>
<svg style="left:1653px;top:798px;" width="4" height="4"><rect x="1.00" y="1.80" width="1.20" height="1.20" fill="#bbb"/></svg>
<svg style="left:1656px;top:798px;" width="5" height="4"><rect x="1.80" y="1.40" width="1.50" height="1.50" fill="#d8d8d8"/></svg>
<svg style="left:1679px;top:799px;" width="11" height="11"><rect x="1.00" y="1.20" width="9.00" height="8.60" fill="#d8d8d8"/></svg>
<svg style="left:1685px;top:807px;" width="5" height="4"><rect x="1.60" y="1.60" width="2.20" height="1.40" fill="#d8d8d8"/></svg>
<svg style="left:1689px;top:800px;" width="10" height="10"><rect x="1.50" y="1.50" width="7.20" height="7.00" rx="2" fill="#4c4c4c"/></svg>
<div class="t " style="left:1702.00px;top:796.40px;font-size:12.48px;line-height:18px;color:#ececec;letter-spacing:0.227px;clip-path:inset(0 0 0 2.7px);">nJDK 64-Bit Server VM 11.0.4+11</div>
<div class="b" style="left:1895px;top:164px;width:15px;height:687px;background:#fafafa;"></div>
<svg style="left:1897px;top:166px;" width="11" height="225"><rect x="1.80" y="1.00" width="8.20" height="222.40" rx="4.1" fill="#c4c4c4"/></svg>
</div></body></html>
